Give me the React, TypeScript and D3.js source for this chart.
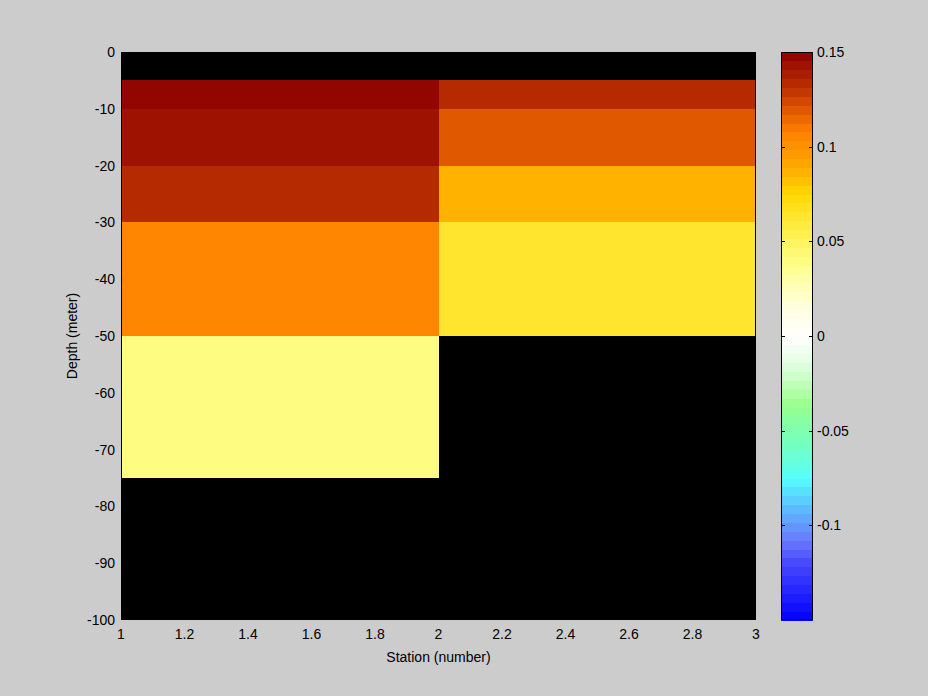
import * as d3 from 'd3'
import React from 'react'

// grid edges (pcolor style)
const stationEdges = [1, 2, 3]
const depthEdges = [0, -5, -10, -20, -30, -50, -75, -100]
// cell values per station column, top to bottom (null = no data)
const station1 = [null, 0.148, 0.143, 0.134, 0.104, 0.039, null]
const station2 = [null, 0.134, 0.118, 0.088, 0.062, null, null]
const columns = [station1, station2]

const xTicks = [1, 1.2, 1.4, 1.6, 1.8, 2, 2.2, 2.4, 2.6, 2.8, 3]
const yTicks = [0, -10, -20, -30, -40, -50, -60, -70, -80, -90, -100]
const cbTicks = [0.15, 0.1, 0.05, 0, -0.05, -0.1]

// colormap anchors (0 = bottom, 1 = top)
const cmapStops = [0, 0.1, 0.14, 0.2, 0.25, 0.3, 0.38, 0.44, 0.5, 0.55, 0.62, 0.68, 0.75, 0.8, 0.86, 0.89, 0.94, 1]
const cmapColors = ['#0000ff', '#4848ff', '#6878ff', '#5cc0ff', '#55ffff', '#70ffc8', '#99ff8c', '#d8ffd8', '#ffffff', '#ffffe0', '#ffff90', '#fff050', '#ffd800', '#ffa800', '#ff8000', '#e86000', '#ba2e00', '#8b0000']
const nLevels = 64
const cmin = -0.15
const cmax = 0.15

const W = 928
const H = 696
const plot = { left: 121, right: 756, top: 52, bottom: 620 }
const cb = { left: 781, right: 813 }

const App = () => {
  const x = d3.scaleLinear().domain([1, 3]).range([plot.left, plot.right])
  const y = d3.scaleLinear().domain([0, -100]).range([plot.top, plot.bottom])
  const cy = d3.scaleLinear().domain([cmin, cmax]).range([plot.bottom, plot.top])
  const interp = d3.scaleLinear<string>().domain(cmapStops).range(cmapColors).interpolate(d3.interpolateRgb)
  const levelColor = (i) => interp((i + 0.5) / nLevels)
  const color = (v) => {
    const i = Math.max(0, Math.min(nLevels - 1, Math.floor(((v - cmin) / (cmax - cmin)) * nLevels)))
    return levelColor(i)
  }
  const font = { fontFamily: 'Liberation Sans, Arial, sans-serif', fontSize: 14, fill: '#000' }

  const cells = []
  columns.forEach((col, ci) => {
    col.forEach((v, ri) => {
      if (v === null) return
      const x0 = x(stationEdges[ci])
      const x1 = x(stationEdges[ci + 1])
      const y0 = y(depthEdges[ri])
      const y1 = y(depthEdges[ri + 1])
      cells.push(<rect key={ci + '-' + ri} x={x0} y={y0} width={x1 - x0} height={y1 - y0} fill={color(v)} />)
    })
  })

  const step = (cmax - cmin) / nLevels
  const levels = d3.range(nLevels).map((i) => (
    <rect key={i} x={cb.left} y={cy(cmin + (i + 1) * step)} width={cb.right - cb.left}
      height={cy(cmin + i * step) - cy(cmin + (i + 1) * step) + 0.5} fill={levelColor(i)} />
  ))

  return (
    <div style={{ position: 'absolute', left: 0, top: 0 }}>
      <svg width={W} height={H} style={{ display: 'block' }}>
        <rect width={W} height={H} fill="#cccccc" />
        <g shapeRendering="crispEdges">
          <rect x={plot.left} y={plot.top} width={plot.right - plot.left} height={plot.bottom - plot.top} fill="#000" />
          {cells}
          <rect x={plot.left + 0.5} y={plot.top + 0.5} width={plot.right - plot.left - 1} height={plot.bottom - plot.top - 1} fill="none" stroke="#000" />
        </g>
        {yTicks.map((t) => (
          <text key={t} x={plot.left - 6} y={y(t)} dy="0.35em" textAnchor="end" {...font}>{String(t)}</text>
        ))}
        {xTicks.map((t) => (
          <text key={t} x={x(t)} y={639} textAnchor="middle" {...font}>{String(t)}</text>
        ))}
        <text x={(plot.left + plot.right) / 2} y={662} textAnchor="middle" {...font}>Station (number)</text>
        <text transform={`translate(77,${(plot.top + plot.bottom) / 2}) rotate(-90)`} textAnchor="middle" {...font}>Depth (meter)</text>

        <g shapeRendering="crispEdges">
          {levels}
          <rect x={cb.left + 0.5} y={plot.top + 0.5} width={cb.right - cb.left - 1} height={plot.bottom - plot.top - 1} fill="none" stroke="#000" />
        </g>
        {cbTicks.map((t) => (
          <g key={t}>
            <line x1={cb.left} x2={cb.left + 4} y1={Math.round(cy(t)) + 0.5} y2={Math.round(cy(t)) + 0.5} stroke="#000" />
            <line x1={cb.right - 4} x2={cb.right} y1={Math.round(cy(t)) + 0.5} y2={Math.round(cy(t)) + 0.5} stroke="#000" />
            <text x={cb.right + 4} y={cy(t)} dy="0.35em" {...font}>{String(t)}</text>
          </g>
        ))}
      </svg>
    </div>
  )
}

export default App
